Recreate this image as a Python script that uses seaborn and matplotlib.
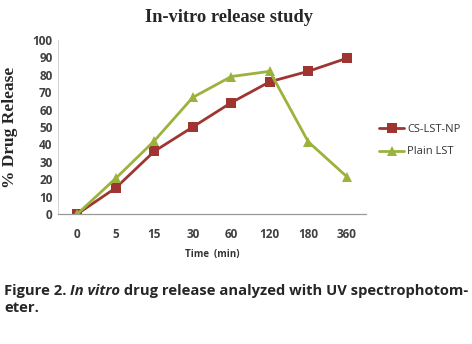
import matplotlib
matplotlib.use("Agg")
import matplotlib.pyplot as plt
import seaborn as sns
import pandas as pd

time_labels = ["0", "5", "15", "30", "60", "120", "180", "360"]
cs_lst_np = [0, 15, 36, 50, 64, 76, 82, 89.5]
plain_lst = [0, 20.5, 42, 67, 79, 82, 41.5, 21.5]
series_names = ["CS-LST-NP", "Plain LST"]

df = pd.concat([
    pd.DataFrame({"Time": time_labels, "Release": cs_lst_np, "Series": series_names[0]}),
    pd.DataFrame({"Time": time_labels, "Release": plain_lst, "Series": series_names[1]}),
])

sns.set_theme(style="white")
plt.rcParams['font.family'] = ['Open Sans', 'DejaVu Sans']

fig = plt.figure(figsize=(4.72, 3.44), dpi=100)
ax = fig.add_axes([58/472, 1 - 214/344, 308/472, 174/344])

palette = {"CS-LST-NP": "#9E3531", "Plain LST": "#9BB33C"}
sns.lineplot(data=df, x="Time", y="Release", hue="Series", style="Series",
             markers={"CS-LST-NP": "s", "Plain LST": "^"}, dashes=False,
             palette=palette, markersize=7, linewidth=2, markeredgewidth=0,
             sort=False, ax=ax, legend=True)

ax.set_xlim(-0.5, 7.5)
ax.set_ylim(0, 100)
ax.set_yticks(range(0, 101, 10))
ax.set_xticks(range(8))
ax.set_xticklabels(time_labels)
ax.tick_params(axis="both", labelsize=8.5, length=0)
for lab in ax.get_xticklabels() + ax.get_yticklabels():
    lab.set_fontweight("bold")
    lab.set_color("#404040")
ax.tick_params(axis="x", pad=10)
ax.tick_params(axis="y", pad=4)

ax.set_xticks([i - 0.5 for i in range(9)], minor=True)
ax.tick_params(axis="x", which="minor", length=4, color="#999999", width=0.8, direction="out")
ax.set_yticks(range(0, 101, 10), minor=True)
ax.tick_params(axis="y", which="minor", length=3, color="#bbbbbb", width=0.6, direction="out")

for s in ["top", "right"]:
    ax.spines[s].set_visible(False)
ax.spines["bottom"].set_color("#999999")
ax.spines["bottom"].set_linewidth(0.9)
ax.spines["left"].set_color("#cccccc")
ax.spines["left"].set_linewidth(0.6)

ax.set_xlabel("")
ax.set_ylabel("% Drug Release", family=["Liberation Serif", "DejaVu Serif"],
              fontweight="bold", fontsize=12.5)
ax.yaxis.set_label_coords((18 - 58) / 308, 0.5)

fig.text(229/472, 1 - 17/344, "In-vitro release study", ha="center", va="center",
         family=["Liberation Serif", "DejaVu Serif"], fontweight="bold", fontsize=13.3)
fig.text(212/472, 1 - 255/344, "Time  (min)", ha="center", va="center",
         fontweight="bold", fontsize=7, color="#333333")

leg = ax.legend(loc="center left", bbox_to_anchor=(1.0, 0.42), frameon=False,
                fontsize=8, handlelength=2.2, handletextpad=0.3, labelspacing=1.0,
                borderaxespad=0.8)
for t in leg.get_texts():
    t.set_color("#333333")

renderer = fig.canvas.get_renderer()
cap_size = 10.65
y1 = 1 - 291/344
x = 4/472
parts = [("Figure 2. ", "normal"), ("In vitro", "italic"),
         (" drug release analyzed with UV spectrophotom-", "normal")]
for txt, style in parts:
    t = fig.text(x, y1, txt, ha="left", va="center", fontweight="bold",
                 fontstyle=style, fontsize=cap_size)
    bb = t.get_window_extent(renderer=renderer)
    x += bb.width / fig.bbox.width
fig.text(4/472, 1 - 308/344, "eter.", ha="left", va="center", fontweight="bold", fontsize=cap_size)

fig.savefig("out.png", dpi=100)
